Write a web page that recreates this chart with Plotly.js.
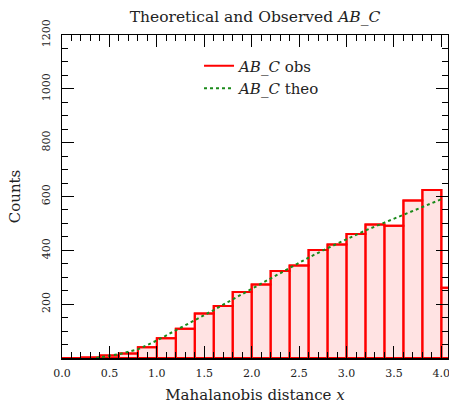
<!DOCTYPE html>
<html>
<head>
<meta charset="utf-8">
<script src="https://cdn.plot.ly/plotly-3.0.1.min.js"></script>
<style>html,body{margin:0;padding:0;background:#fff}#chart{width:449px;height:404px}</style>
</head>
<body>
<div id="chart"></div>
<script>
// Histogram bins (centres, width 0.2) and observed counts
const binCenters = [0.1,0.3,0.5,0.7,0.9,1.1,1.3,1.5,1.7,1.9,2.1,2.3,2.5,2.7,2.9,3.1,3.3,3.5,3.7,3.9,4.1];
const obsCounts  = [0,2,9,17,40,73,109,165,193,245,273,323,344,401,422,461,496,491,585,624,261];
// Theoretical curve
const theoX = [0.36,0.5,0.6,0.8,1.0,1.2,1.4,1.6,1.8,2.0,2.2,2.4,2.6,2.8,3.0,3.2,3.4,3.6,3.8,4.0];
const theoY = [0,8,14,32,65,103,140,178,218,257,297,336,373,408,442,474,503,532,561,590];
const xTickVals = [0,0.5,1,1.5,2,2.5,3,3.5,4];
const yTickVals = [200,400,600,800,1000,1200];

const FONT = 'DejaVu Serif, Liberation Serif, serif';
const binWidth = 0.2;

const traces = [
  {
    type: 'bar', x: binCenters, y: obsCounts, width: binWidth,
    marker: {color: 'rgba(255,0,0,0.11)', line: {color: '#ff0000', width: 2}},
    showlegend: false, hoverinfo: 'skip'
  },
  {
    type: 'scatter', mode: 'lines', x: binCenters, y: obsCounts,
    line: {color: '#ff0000', width: 2, shape: 'hvh'},
    name: '<i>AB</i>_<i>C</i> obs'
  },
  {
    type: 'scatter', mode: 'lines', x: theoX, y: theoY,
    line: {color: '#1a8a1a', width: 2, dash: 'dot'},
    name: '<i>AB</i>_<i>C</i> theo'
  }
];

const axisCommon = {
  showgrid: false, zeroline: false, showline: true, linecolor: '#000', linewidth: 1.5,
  mirror: 'allticks', ticks: 'inside', ticklen: 12, tickwidth: 1, tickcolor: '#000',
  ticklabeloverflow: 'allow',
  tickfont: {family: FONT, size: 11, color: '#222'}
};

const layout = {
  width: 449, height: 404,
  margin: {l: 62, r: 1, t: 35, b: 46},
  paper_bgcolor: '#fff', plot_bgcolor: '#fff',
  font: {family: FONT, color: '#222'},
  title: {text: 'Theoretical and Observed <i>AB</i>_<i>C</i>', font: {family: FONT, size: 15.5, color: '#222'},
          x: 0.568, xanchor: 'center', y: 0.958, yanchor: 'middle'},
  bargap: 0,
  xaxis: Object.assign({}, axisCommon, {
    range: [0, 4.07], tickvals: xTickVals, tickformat: '.1f', ticklabelstandoff: 4,
    minor: {dtick: 0.1, tick0: 0, ticks: 'inside', ticklen: 6, tickwidth: 1, tickcolor: '#000'},
    title: {text: 'Mahalanobis distance <i>x</i>', font: {family: FONT, size: 15, color: '#222'}, standoff: 16}
  }),
  yaxis: Object.assign({}, axisCommon, {
    range: [0, 1200], tickvals: yTickVals, tickangle: -90, ticklabelstandoff: 6,
    minor: {dtick: 50, tick0: 0, ticks: 'inside', ticklen: 6, tickwidth: 1, tickcolor: '#000'},
    title: {text: 'Counts', font: {family: FONT, size: 15, color: '#222'}, standoff: 16}
  }),
  legend: {x: 0.355, y: 0.955, xanchor: 'left', yanchor: 'top', bgcolor: 'rgba(0,0,0,0)',
           font: {family: FONT, size: 15, color: '#222'}}
};

Plotly.newPlot('chart', traces, layout, {staticPlot: true, displayModeBar: false});
</script>
</body>
</html>
